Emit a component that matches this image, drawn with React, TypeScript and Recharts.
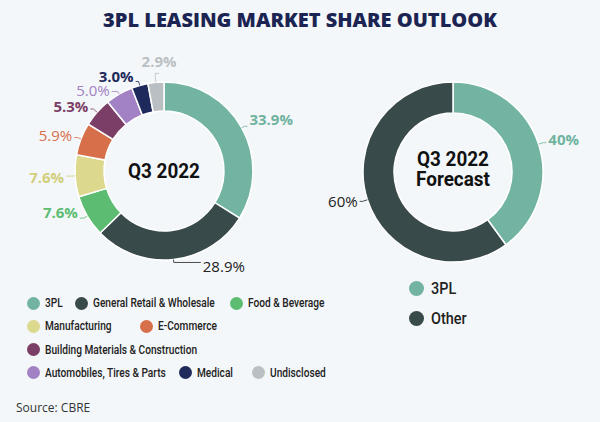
import { PieChart, Pie, Cell } from 'recharts'

const leftCategories = [
  '3PL',
  'General Retail & Wholesale',
  'Food & Beverage',
  'Manufacturing',
  'E-Commerce',
  'Building Materials & Construction',
  'Automobiles, Tires & Parts',
  'Medical',
  'Undisclosed',
]
const leftValues = [33.9, 28.9, 7.6, 7.6, 5.9, 5.3, 5.0, 3.0, 2.9]
const leftColors = ['#72b4a1', '#394a4a', '#5cbd72', '#dcd88d', '#d66f4a', '#7b3f67', '#a282c4', '#1d2a5b', '#b9bfc3']

const rightCategories = ['3PL', 'Other']
const rightValues = [40, 60]
const rightColors = ['#72b4a1', '#394a4a']

// label look + leader line shape, by slice
const leftLabelStyle = [
  { color: '#6fb3a0', bold: true, ext: 3, run: 3, dy: -7 },
  { color: '#222', bold: false, ext: 3, run: 27, dy: 4 },
  { color: '#5cbd72', bold: true, ext: 4, run: 4, dy: -6 },
  { color: '#d2ce7c', bold: true, ext: 4, run: 5, dy: 1 },
  { color: '#d66f4a', bold: false, ext: 4, run: 3, dy: -2 },
  { color: '#7b3f67', bold: true, ext: 5, run: 3, dy: -3 },
  { color: '#a282c4', bold: false, ext: 3, run: 6, dy: -1 },
  { color: '#1d2a5b', bold: true, ext: 4, run: 3, dy: -6 },
  { color: '#b9bfc3', bold: true, ext: 9, run: 4, dy: -12, anchor: 'middle' },
]
const rightLabelStyle = [
  { color: '#6fb3a0', bold: true, ext: 5, run: 3, dy: -4 },
  { color: '#222', bold: false, ext: 5, run: 3, dy: 0 },
]

const legendRows = [
  [[0, 33], [1, 81], [2, 236]],
  [[3, 33], [4, 146]],
  [[5, 33]],
  [[6, 33], [7, 185], [8, 258]],
]

const leftData = leftCategories.map((name, i) => ({ name, value: leftValues[i] }))
const rightData = rightCategories.map((name, i) => ({ name, value: rightValues[i] }))

const RAD = Math.PI / 180
const narrow = "Roboto, 'Open Sans', sans-serif"

function makeLabel(styles: any[], digits: number) {
  return (props: any) => {
    const { cx, cy, midAngle, outerRadius, index, value } = props
    const s = styles[index]
    const cos = Math.cos(-midAngle * RAD)
    const sin = Math.sin(-midAngle * RAD)
    const sx = cx + outerRadius * cos
    const sy = cy + outerRadius * sin
    const kx = cx + (outerRadius + s.ext) * cos
    const ky = cy + (outerRadius + s.ext) * sin
    const side = s.anchor === 'middle' ? 1 : cos >= 0 ? 1 : -1
    const ex = kx + side * s.run
    const anchor = s.anchor ?? (side > 0 ? 'start' : 'end')
    const tx = s.anchor === 'middle' ? ex : ex + side * 2
    return (
      <g key={`lbl-${index}`}>
        <polyline
          points={`${sx},${sy} ${kx},${ky} ${ex},${ky}`}
          fill="none"
          stroke={s.color}
          strokeWidth={1}
          opacity={0.8}
        />
        <text
          x={tx}
          y={ky + s.dy}
          textAnchor={anchor}
          dominantBaseline="central"
          fill={s.color}
          fontSize={15}
          fontWeight={s.bold ? 700 : 400}
          fontFamily="'Open Sans', sans-serif"
        >
          {Number(value).toFixed(digits)}%
        </text>
      </g>
    )
  }
}

const dot = (color: string) => ({
  position: 'absolute' as const,
  width: 13,
  height: 13,
  borderRadius: '50%',
  background: color,
})

const centerText = {
  position: 'absolute' as const,
  width: 120,
  textAlign: 'center' as const,
  fontFamily: narrow,
  fontWeight: 700,
  fontSize: 21,
  color: '#111',
  transform: 'scaleX(0.9)',
}

export default function App() {
  return (
    <div
      style={{
        position: 'absolute',
        left: 0,
        top: 0,
        width: 600,
        height: 422,
        background: '#f4f7f9',
        overflow: 'hidden',
        fontFamily: "'Open Sans', sans-serif",
      }}
    >
      <div
        style={{
          position: 'absolute',
          top: 6,
          width: 600,
          textAlign: 'center',
          fontSize: 20,
          fontWeight: 800,
          color: '#1b2452',
        }}
      >
        3PL LEASING MARKET SHARE OUTLOOK
      </div>

      <div style={{ position: 'absolute', left: 0, top: 0 }}>
        <PieChart width={600} height={300} margin={{ top: 0, right: 0, bottom: 0, left: 0 }}>
          <Pie
            data={leftData}
            dataKey="value"
            cx={164}
            cy={171}
            innerRadius={60}
            outerRadius={89}
            startAngle={90}
            endAngle={-270}
            stroke="#ffffff"
            strokeWidth={1.5}
            isAnimationActive={false}
            labelLine={false}
            label={makeLabel(leftLabelStyle, 1)}
          >
            {leftData.map((_, i) => (
              <Cell key={i} fill={leftColors[i]} />
            ))}
          </Pie>
          <Pie
            data={rightData}
            dataKey="value"
            cx={453}
            cy={172}
            innerRadius={59}
            outerRadius={90}
            startAngle={90}
            endAngle={-270}
            stroke="#ffffff"
            strokeWidth={1.5}
            isAnimationActive={false}
            labelLine={false}
            label={makeLabel(rightLabelStyle, 0)}
          >
            {rightData.map((_, i) => (
              <Cell key={i} fill={rightColors[i]} />
            ))}
          </Pie>
        </PieChart>
      </div>

      <div style={{ ...centerText, left: 104, top: 157, lineHeight: '28px' }}>Q3 2022</div>
      <div style={{ ...centerText, left: 393, top: 149, lineHeight: '20px' }}>
        Q3 2022
        <br />
        Forecast
      </div>

      {legendRows.map((row, r) =>
        row.map(([idx, x]) => (
          <div key={`${r}-${idx}`}>
            <div style={{ ...dot(leftColors[idx]), left: x - 6.5, top: 303 + r * 23.3 - 6.5 }} />
            <div
              style={{
                position: 'absolute',
                left: x + 12,
                top: 303 + r * 23.3 - 9,
                fontSize: 13,
                fontWeight: 500,
                lineHeight: '18px',
                color: '#222',
                fontFamily: narrow,
                whiteSpace: 'nowrap',
                transform: 'scaleX(0.78)',
                transformOrigin: 'left center',
              }}
            >
              {leftCategories[idx]}
            </div>
          </div>
        ))
      )}

      {rightCategories.map((name, i) => (
        <div key={name}>
          <div style={{ ...dot(rightColors[i]), width: 15, height: 15, left: 409, top: 288 + i * 30 - 7.5 }} />
          <div
            style={{
              position: 'absolute',
              left: 431,
              top: 288 + i * 30 - 11,
              fontSize: 17,
              fontWeight: 500,
              lineHeight: '22px',
              color: '#222',
              fontFamily: narrow,
              transform: 'scaleX(0.85)',
              transformOrigin: 'left center',
            }}
          >
            {name}
          </div>
        </div>
      ))}

      <div
        style={{
          position: 'absolute',
          left: 16,
          top: 399,
          fontSize: 12,
          color: '#333',
        }}
      >
        Source: CBRE
      </div>
    </div>
  )
}
